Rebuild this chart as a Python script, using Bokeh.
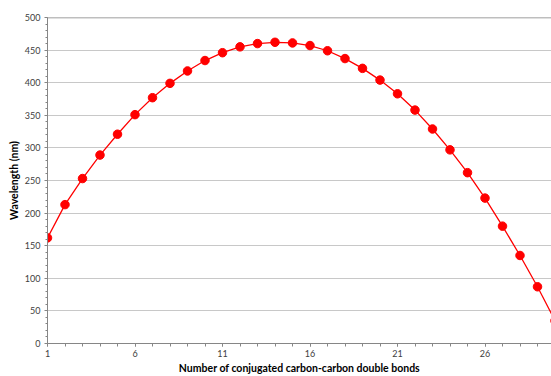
from bokeh.plotting import figure
from bokeh.models import FixedTicker, Range1d, Span
from bokeh.embed import file_html
from bokeh.resources import INLINE

# Data
bonds = list(range(1, 31))
wavelength = [162, 213, 253, 289, 321, 351, 377, 399, 418, 434,
              446, 455, 460, 462, 461, 457, 449, 437, 422, 404,
              383, 358, 329, 297, 262, 223, 180, 135, 87, 35]

x_major = [1, 6, 11, 16, 21, 26]
x_minor = list(range(1, 31))
y_major = list(range(0, 501, 50))
y_minor = list(range(0, 501, 10))

FONT = "Lato"
TXT = "#404040"

p = figure(width=551, height=376, output_backend="svg", toolbar_location=None,
           x_range=Range1d(1, 29.8), y_range=Range1d(0, 500),
           min_border_left=47, min_border_right=0, min_border_top=17,
           min_border_bottom=32)
p.outline_line_color = None
p.background_fill_color = "white"
p.border_fill_color = "white"

p.line(bonds, wavelength, line_color="#ff0000", line_width=1.3)
p.scatter(bonds, wavelength, size=8.5, fill_color="#ff0000", line_color="#ff0000")

p.xgrid.grid_line_color = None
p.ygrid.ticker = FixedTicker(ticks=y_major)
p.ygrid.grid_line_color = "#c8c8c8"
p.ygrid.grid_line_width = 1

top = Span(location=500, dimension="width", line_color="#7f7f7f", line_width=1.5)
p.add_layout(top)

xa = p.xaxis[0]
xa.ticker = FixedTicker(ticks=x_major, minor_ticks=x_minor)
xa.axis_label = "Number of conjugated carbon-carbon double bonds"
xa.axis_label_text_font = FONT
xa.axis_label_text_font_style = "bold"
xa.axis_label_text_font_size = "10.5px"
xa.axis_label_text_color = "#000000"
xa.axis_label_standoff = 2
xa.major_label_text_font = FONT
xa.major_label_text_font_size = "9px"
xa.major_label_text_color = TXT
xa.axis_line_color = "#868686"
xa.major_tick_line_color = "#868686"
xa.minor_tick_line_color = "#868686"
xa.major_tick_out = 3
xa.major_tick_in = 0
xa.minor_tick_out = 3
xa.minor_tick_in = 0
xa.major_label_standoff = 3

ya = p.yaxis[0]
ya.ticker = FixedTicker(ticks=y_major, minor_ticks=y_minor)
ya.axis_label = "Wavelength (nm)"
ya.axis_label_text_font = FONT
ya.axis_label_text_font_style = "bold"
ya.axis_label_text_font_size = "10.5px"
ya.axis_label_text_color = "#000000"
ya.axis_label_standoff = 2
ya.major_label_text_font = FONT
ya.major_label_text_font_size = "9px"
ya.major_label_text_color = TXT
ya.axis_line_color = "#868686"
ya.major_tick_line_color = "#868686"
ya.minor_tick_line_color = "#868686"
ya.major_tick_out = 3
ya.major_tick_in = 0
ya.minor_tick_out = 2
ya.minor_tick_in = 0
ya.major_label_standoff = 4

open("out.html", "w").write(file_html(p, INLINE))
